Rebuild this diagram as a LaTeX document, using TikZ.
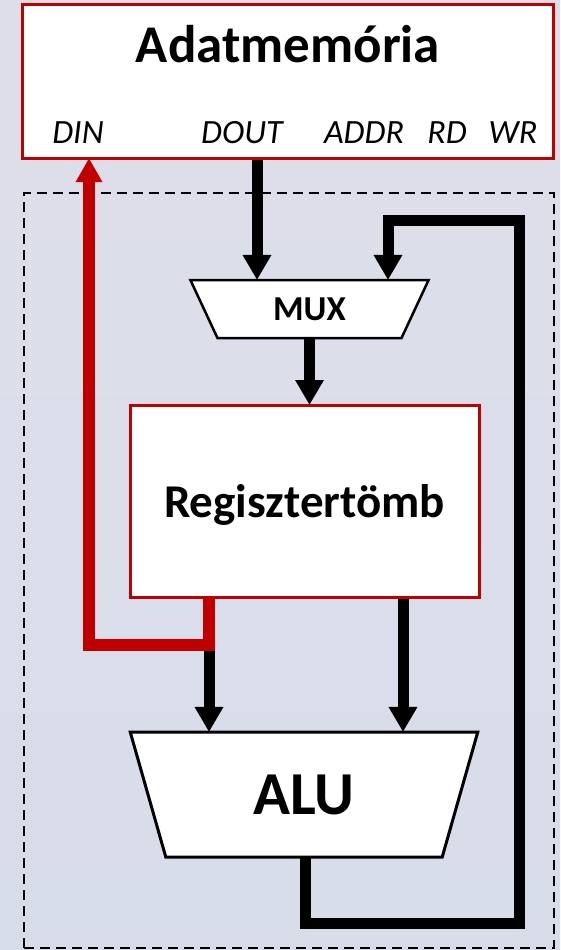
\documentclass[tikz,border=0pt]{standalone}
\usepackage{fontspec}
\setmainfont{Carlito}
\usetikzlibrary{arrows.meta,shapes.geometric}

\definecolor{memred}{RGB}{192,0,0}
\definecolor{bgtop}{RGB}{222,222,234}
\definecolor{bgbot}{RGB}{216,221,234}

\begin{document}
\begin{tikzpicture}[x=1pt,y=-1pt,
  redbox/.style={draw=memred, line width=3pt, fill=white, inner sep=0pt, outer sep=0pt},
  trap/.style={trapezium, shape border rotate=180, trapezium stretches=true,
    draw=black, line width=2.5pt, fill=white, inner sep=0pt, outer sep=0pt},
  port/.style={font=\itshape\fontsize{34}{40}\selectfont, anchor=base, inner sep=0pt},
  bus/.style={line width=11pt, black},
  busarrow/.style={bus, -{Triangle[width=27pt,length=25pt]}},
  redbus/.style={line width=12pt, memred, -{Triangle[width=25pt,length=24pt]}},
]
% canvas
\fill[top color=bgtop, bottom color=bgbot] (0,0) rectangle (560,950);
\useasboundingbox (0,0) rectangle (560,950);

% dashed frame around the datapath
\node[draw, dash pattern=on 10pt off 6pt, line width=2pt, minimum width=530pt,
  minimum height=755pt, inner sep=0pt, outer sep=0pt] (core) at (289,570.5) {};

% data memory
\node[redbox, minimum width=531pt, minimum height=153pt] (ram) at (287.5,81.5) {};
\node[font=\bfseries\fontsize{53}{60}\selectfont, anchor=base, inner sep=0pt] (ramtitle) at (288,63) {Adatmemória};
\node[port] (din)  at (78,143)  {DIN};
\node[port] (dout) at (242,143) {DOUT};
\node[port] (addr) at (364,143) {ADDR};
\node[port] (rd)   at (447,143) {RD};
\node[port] (wr)   at (513,143) {WR};

% multiplexer, register file, ALU
\node[trap, trapezium angle=65, minimum width=239pt, minimum height=58pt,
  font=\bfseries\fontsize{35}{40}\selectfont] (mux) at (309.5,309) {MUX};
\node[redbox, minimum width=349pt, minimum height=192pt, text depth=0pt,
  font=\bfseries\fontsize{47}{56}\selectfont] (reg) at (304.5,501) {Regisztertömb};
\node[trap, trapezium angle=72, minimum width=348pt, minimum height=125pt, line width=3pt,
  font=\bfseries\fontsize{61}{70}\selectfont] (alu) at (304,794.5) {ALU};

% column and corner points of the buses
\coordinate (xdout) at (257,0);
\coordinate (xregr) at (403,0);
\coordinate (split) at (209,645);
\coordinate (dinc)  at (89,645);
\coordinate (loopa) at (305,923);
\coordinate (loopb) at (519,923);
\coordinate (loopc) at (519,220);
\coordinate (loopd) at (388,220);

% buses
\draw[busarrow, shorten <=1.5pt] (ram.south -| xdout) -- (mux.north -| xdout);
\draw[busarrow] (mux.south) -- (reg.north -| mux.south);
\draw[busarrow] (split) -- (alu.north -| split);
\draw[busarrow, shorten <=1.5pt] (reg.south -| xregr) -- (alu.north -| xregr);
\draw[busarrow] (alu.south -| loopa) -- (loopa) -- (loopb) -- (loopc) -- (loopd) -- (mux.north -| loopd);
\draw[redbus, shorten <=1.5pt] (reg.south -| split) -- (split) -- (dinc) -- (ram.south -| dinc);
\end{tikzpicture}
\end{document}
